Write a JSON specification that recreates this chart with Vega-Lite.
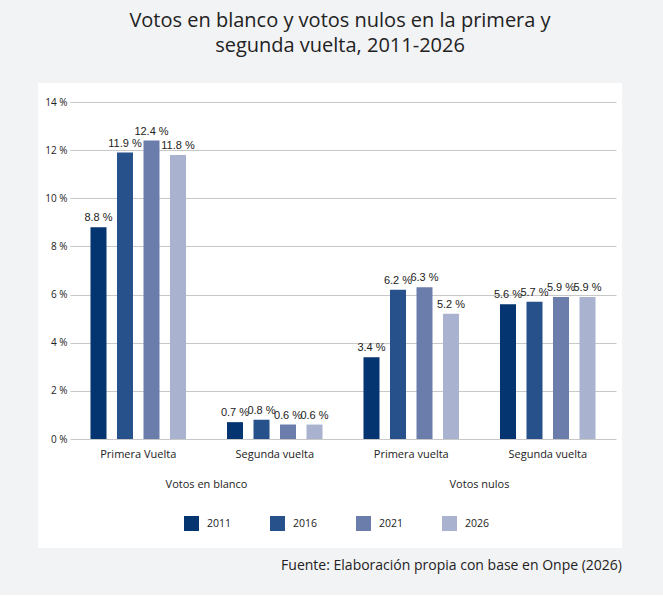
{
  "$schema": "https://vega.github.io/schema/vega-lite/v6.json",
  "background": "#f2f3f5",
  "padding": {"left": 38, "top": 11, "right": 41, "bottom": 22},
  "title": {
    "text": ["Votos en blanco y votos nulos en la primera y", "segunda vuelta, 2011-2026"],
    "font": "Open Sans",
    "fontSize": 20,
    "fontWeight": "normal",
    "color": "#222222",
    "lineHeight": 25,
    "anchor": "middle",
    "dx": 10,
    "offset": 27
  },
  "config": {
    "view": {"stroke": null},
    "axis": {"labelFont": "Open Sans", "labelColor": "#222222"},
    "legend": {"labelFont": "Open Sans", "labelColor": "#222222"}
  },
  "vconcat": [
    {
      "width": 584,
      "height": 465,
      "view": {"fill": "white", "stroke": null},
      "title": {
        "text": "Fuente: Elaboración propia con base en Onpe (2026)",
        "orient": "bottom",
        "anchor": "end",
        "font": "Open Sans",
        "fontSize": 14,
        "fontWeight": "normal",
        "color": "#222222",
        "offset": 11
      },
      "layer": [
        {
          "data": {
            "values": [
              {"clave": "Votos en blanco|Primera Vuelta", "anio": "2011", "valor": 8.8},
              {"clave": "Votos en blanco|Primera Vuelta", "anio": "2016", "valor": 11.9},
              {"clave": "Votos en blanco|Primera Vuelta", "anio": "2021", "valor": 12.4},
              {"clave": "Votos en blanco|Primera Vuelta", "anio": "2026", "valor": 11.8},
              {"clave": "Votos en blanco|Segunda vuelta", "anio": "2011", "valor": 0.7},
              {"clave": "Votos en blanco|Segunda vuelta", "anio": "2016", "valor": 0.8},
              {"clave": "Votos en blanco|Segunda vuelta", "anio": "2021", "valor": 0.6},
              {"clave": "Votos en blanco|Segunda vuelta", "anio": "2026", "valor": 0.6},
              {"clave": "Votos nulos|Primera vuelta", "anio": "2011", "valor": 3.4},
              {"clave": "Votos nulos|Primera vuelta", "anio": "2016", "valor": 6.2},
              {"clave": "Votos nulos|Primera vuelta", "anio": "2021", "valor": 6.3},
              {"clave": "Votos nulos|Primera vuelta", "anio": "2026", "valor": 5.2},
              {"clave": "Votos nulos|Segunda vuelta", "anio": "2011", "valor": 5.6},
              {"clave": "Votos nulos|Segunda vuelta", "anio": "2016", "valor": 5.7},
              {"clave": "Votos nulos|Segunda vuelta", "anio": "2021", "valor": 5.9},
              {"clave": "Votos nulos|Segunda vuelta", "anio": "2026", "valor": 5.9}
            ]
          },
          "encoding": {
            "x": {
              "field": "clave",
              "type": "nominal",
              "sort": null,
              "scale": {"range": [32, 578], "paddingInner": 0, "paddingOuter": 0},
              "axis": {
                "orient": "bottom",
                "offset": -109,
                "title": null,
                "labelExpr": "split(datum.label, '|')[1]",
                "labelAngle": 0,
                "labelFontSize": 11,
                "labelPadding": 9,
                "domain": false,
                "ticks": false
              }
            },
            "xOffset": {
              "field": "anio",
              "type": "nominal",
              "scale": {"paddingInner": 0.396, "paddingOuter": 0.773}
            },
            "y": {
              "field": "valor",
              "type": "quantitative",
              "scale": {"domain": [0, 14], "range": [356, 19]},
              "axis": {
                "title": null,
                "values": [0, 2, 4, 6, 8, 10, 12, 14],
                "labelExpr": "datum.value + ' %'",
                "labelFontSize": 10,
                "labelPadding": 8,
                "offset": -37,
                "domain": false,
                "ticks": false,
                "gridColor": "#c8c8c8",
                "gridWidth": 1
              }
            }
          },
          "layer": [
            {
              "mark": {"type": "bar"},
              "encoding": {
                "color": {
                  "field": "anio",
                  "type": "nominal",
                  "scale": {
                    "domain": ["2011", "2016", "2021", "2026"],
                    "range": ["#053571", "#26518a", "#6b7dab", "#a9b3d0"]
                  },
                  "legend": {
                    "orient": "none",
                    "legendX": 146,
                    "legendY": 433,
                    "direction": "horizontal",
                    "title": null,
                    "symbolType": "square",
                    "symbolSize": 225,
                    "symbolStrokeWidth": 0,
                    "labelFontSize": 10.5,
                    "labelOffset": 8,
                    "columnPadding": 38
                  }
                }
              }
            },
            {
              "mark": {
                "type": "text",
                "baseline": "alphabetic",
                "dy": -6,
                "font": "Liberation Sans",
                "fontSize": 11,
                "color": "#222222",
                "text": {"expr": "format(datum.valor, '.1f') + ' %'"}
              }
            }
          ]
        },
        {
          "data": {
            "values": [
              {"grupo": "Votos en blanco"},
              {"grupo": "Votos nulos"}
            ]
          },
          "mark": {
            "type": "text",
            "font": "Open Sans",
            "fontSize": 11,
            "color": "#222222",
            "baseline": "middle"
          },
          "encoding": {
            "x": {
              "field": "grupo",
              "type": "nominal",
              "scale": {"range": [32, 578]},
              "axis": null
            },
            "y": {"datum": -1.9, "type": "quantitative"},
            "text": {"field": "grupo"}
          }
        }
      ],
      "resolve": {"scale": {"x": "independent"}}
    }
  ]
}
